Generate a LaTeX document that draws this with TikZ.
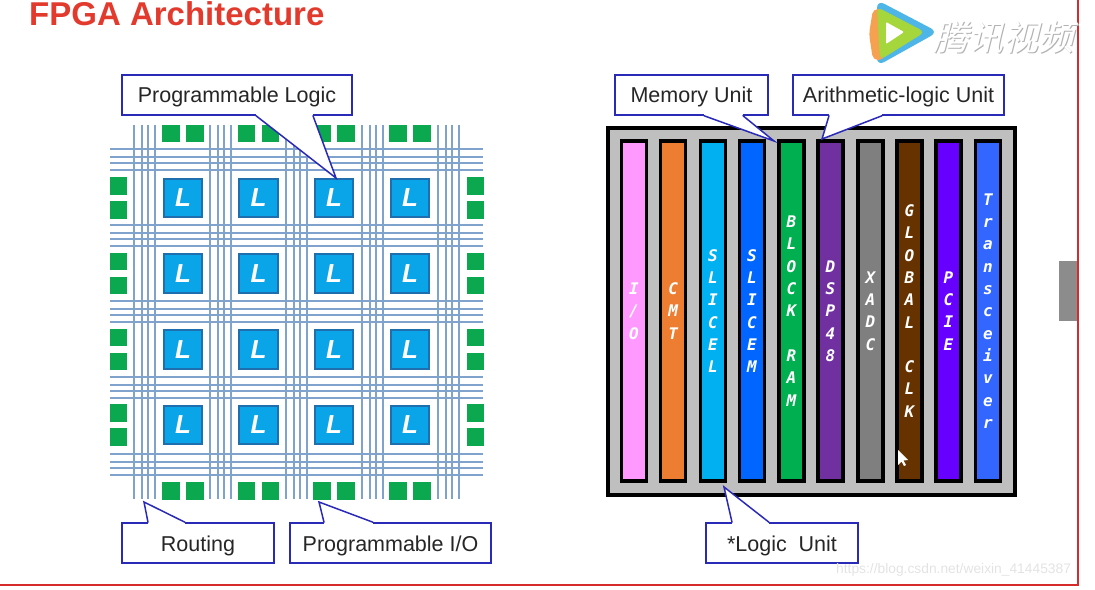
\documentclass[tikz,border=0pt]{standalone}
\usepackage{fontspec}
\setmainfont{Liberation Sans}
\newfontfamily\barfont{DejaVu Sans Mono}
\newfontfamily\cjkfont[FakeSlant=0.25]{Noto Sans CJK SC}
\usetikzlibrary{positioning}
\definecolor{routeblue}{HTML}{7FA3CC}
\definecolor{padgreen}{HTML}{0CA84F}
\definecolor{logicblue}{HTML}{0AA5E8}
\definecolor{logicedge}{HTML}{1F6FAE}
\definecolor{callblue}{HTML}{2A2AB8}
\definecolor{titlered}{HTML}{E23B2E}
\definecolor{framered}{HTML}{D62B2B}
\definecolor{logosky}{HTML}{4DB5E8}
\definecolor{logolime}{HTML}{A5D63B}
\definecolor{logopeach}{HTML}{F5A14F}
\tikzset{
  routeline/.style={routeblue, line width=1.3pt},
  padcell/.style={rectangle, fill=padgreen, minimum size=17.5pt, inner sep=0pt},
  logiccell/.style={rectangle, draw=logicedge, fill=logicblue, line width=1.6pt,
    minimum size=38.5pt, inner sep=0pt, text=white,
    font=\fontsize{26}{26}\selectfont\bfseries\itshape},
  callbox/.style={rectangle, draw=callblue, fill=white, line width=1.5pt,
    minimum height=40pt, inner sep=0pt, text=black!85,
    text height=16pt, text depth=1pt,
    font=\fontsize{21.5}{24}\selectfont},
  lowbox/.style={callbox, text height=17pt, text depth=0pt},
  callline/.style={draw=callblue, fill=white, line width=1.5pt, line cap=round},
  basegap/.style={white, line width=2.6pt},
  column/.style={rectangle, draw=black, line width=3.2pt, minimum width=25pt,
    minimum height=340pt, inner sep=0pt},
  collabel/.style={text=white, align=center, inner sep=0pt,
    font=\fontsize{16}{22.3}\selectfont\barfont\bfseries\itshape}
}
% tail of a label box: edge anchor, left and right x, tip
\newcommand{\calltail}[4]{
  \draw[basegap] (#2,0 |- #1) -- (#3,0 |- #1);
  \draw[callline] (#2,0 |- #1) -- (#4) -- (#3,0 |- #1);
}

\begin{document}
\begin{tikzpicture}[x=1pt, y=-1pt]
\useasboundingbox (0,0) rectangle (1095,589);

%% Page frame
\node[rectangle, fill=black!45, minimum width=20pt, minimum height=60pt, inner sep=0pt]
  (scrollbar) at (1069,291) {};
\coordinate (framet) at (1078,0);
\coordinate (framec) at (1078,585);
\coordinate (frameb) at (0,585);
\draw[framered, line width=1.1pt] (framet) -- (framec) -- (frameb);

\node[text=titlered, anchor=west, inner sep=0pt, font=\fontsize{33}{33}\selectfont\bfseries]
  (title) at (29,14) {FPGA Architecture};

%% Player logo
\fill[logosky, rounded corners=8pt] (877,0) -- (938,32) -- (877,66) -- cycle;
\fill[logopeach, rounded corners=5pt] (884,9) -- (873,9) -- (869,34) -- (873,60) -- (884,60) -- cycle;
\fill[logolime, rounded corners=6pt] (877,7) -- (925,32) -- (880,60) -- cycle;
\fill[white, rounded corners=1pt] (886,22) -- (904,32) -- (886,44) -- cycle;
\node[anchor=west, inner sep=0pt, text=black!30, font=\fontsize{35}{35}\selectfont\cjkfont]
  (brandshadow) at (934.5,38.5) {腾讯视频};
\node[anchor=west, inner sep=0pt, text=white, font=\fontsize{35}{35}\selectfont\cjkfont]
  (brand) at (933,37) {腾讯视频};

%% Routing channels
\foreach \x in {134,210,286,362,438} {
  \foreach \dx in {0,8,14,21}
    \draw[routeline] (\x+\dx,125) -- (\x+\dx,499);
}
\foreach \y in {149,225,301,377,454} {
  \foreach \dy in {0,8,14,21}
    \draw[routeline] (110,\y+\dy) -- (483,\y+\dy);
}

%% Logic cells with their I/O pads
\foreach \x [count=\i] in {183,258.5,334,410} {
  \node[padcell] (ptop\i-a) at (\x-12,133.5) {};
  \node[padcell] (ptop\i-b) at (\x+12,133.5) {};
  \node[padcell] (pbot\i-a) at (\x-12,491) {};
  \node[padcell] (pbot\i-b) at (\x+12,491) {};
  \foreach \y [count=\j] in {198,273.5,349.5,425} {
    \node[logiccell] (cell\i\j) at (\x,\y) {L};
  }
}
\foreach \y [count=\j] in {198,273.5,349.5,425} {
  \node[padcell] (pleft\j-a) at (118.5,\y-12) {};
  \node[padcell] (pleft\j-b) at (118.5,\y+12) {};
  \node[padcell] (pright\j-a) at (475.5,\y-12) {};
  \node[padcell] (pright\j-b) at (475.5,\y+12) {};
}

%% Device floorplan
\node[rectangle, draw=black, fill=black!25, line width=3.4pt, minimum width=407pt,
  minimum height=367pt, inner sep=0pt] (device) at (811.5,311.5) {};
\foreach \x/\colr/\txt [count=\i] in {
  634/FF99FF/{I\\/\\O},
  673.3/ED7D31/{C\\M\\T},
  713/00B0F0/{S\\L\\I\\C\\E\\L},
  752/0066FF/{S\\L\\I\\C\\E\\M},
  791.5/00B050/{B\\L\\O\\C\\K\\[22.3pt]R\\A\\M},
  830.5/7030A0/{D\\S\\P\\4\\8},
  870.5/7F7F7F/{X\\A\\D\\C},
  909.5/663300/{G\\L\\O\\B\\A\\L\\[22.3pt]C\\L\\K},
  948.5/6600FF/{P\\C\\I\\E},
  988/3366FF/{T\\r\\a\\n\\s\\c\\e\\i\\v\\e\\r}} {
  \definecolor{colfill}{HTML}{\colr}
  \node[column, fill=colfill] (col\i) at (\x,311) {};
  \node[collabel] (collabel\i) at (\x,311) {\txt};
}

%% Pointer
\fill[white] (898,450) -- (898,465) -- (901.5,461.5) -- (904,466) -- (906,465)
  -- (903.5,460.5) -- (908,460) -- cycle;

%% Label boxes
\node[callbox, minimum width=230pt] (plogic) at (237,95) {Programmable Logic};
\node[lowbox, minimum width=152pt] (routing) at (198,543) {Routing};
\node[lowbox, minimum width=201pt] (pio) at (390.5,543) {Programmable I/O};
\node[callbox, minimum width=153pt] (memunit) at (691.5,95) {Memory Unit};
\node[callbox, minimum width=211pt] (alu) at (898.5,95) {Arithmetic-logic Unit};
\node[lowbox, minimum width=152pt] (lunit) at (782,543) {*Logic\ \ Unit};

\coordinate (plogictip) at (336,178);
\coordinate (routingtip) at (144,502);
\coordinate (piotip) at (319,502);
\coordinate (memunittip) at (774,141);
\coordinate (alutip) at (822,139);
\coordinate (lunittip) at (724,487);

\calltail{plogic.south}{256}{313}{plogictip}
\calltail{routing.north}{148}{185}{routingtip}
\calltail{pio.north}{324}{373}{piotip}
\calltail{memunit.south}{704}{743}{memunittip}
\calltail{alu.south}{829}{882}{alutip}
\calltail{lunit.north}{732}{769}{lunittip}

%% Page watermark
\node[anchor=west, inner sep=0pt, text=black!11, font=\fontsize{13.8}{14}\selectfont]
  (watermark) at (836,570) {https://blog.csdn.net/weixin\_41445387};

\end{tikzpicture}
\end{document}
